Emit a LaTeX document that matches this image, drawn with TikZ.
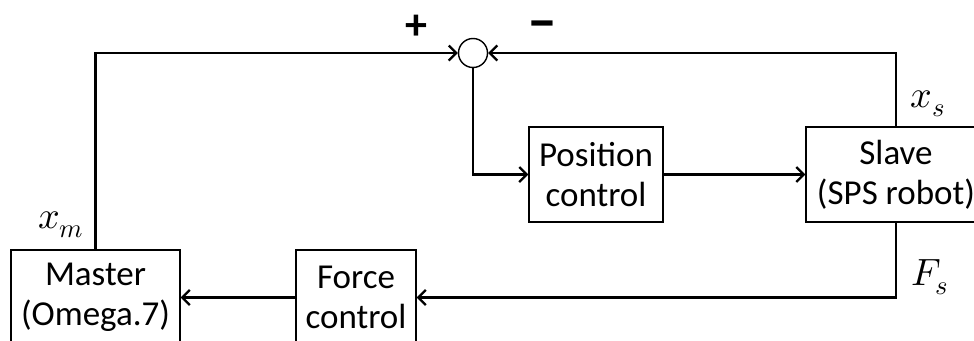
\documentclass[tikz,border=0pt]{standalone}
\usepackage{fontspec}
\usepackage{unicode-math}
\setmainfont{Carlito}
\usetikzlibrary{arrows.meta}
\begin{document}
\begin{tikzpicture}[x=1pt,y=-1pt,
  blk/.style={draw,line width=1.4pt,rectangle,inner sep=0pt,align=center,
    font=\fontsize{35}{40}\selectfont},
  conn/.style={line width=2.2pt,-{Straight Barb[length=7.5pt,width=15pt]}},
  lbl/.style={inner sep=0pt,anchor=base,font=\fontsize{38}{40}\selectfont},
  sgn/.style={inner sep=0pt,font=\fontsize{44}{48}\selectfont\bfseries}]
\useasboundingbox (0,0) rectangle (974,340);
\clip (0,0) rectangle (974,340);
\node[draw,circle,line width=1.4pt,minimum size=29pt,inner sep=0pt] (sum) at (473,53) {};
\node[blk,minimum width=134pt,minimum height=95pt] (pos) at (596,174.5) {Position\\control};
\node[blk,minimum width=180pt,minimum height=95pt] (slave) at (896,174.5) {Slave\\(SPS robot)};
\node[blk,minimum width=169pt,minimum height=95pt] (master) at (95.5,297.5) {Master\\(Omega.7)};
\node[blk,minimum width=120pt,minimum height=95pt] (force) at (356,297.5) {Force\\control};
\node[sgn] (plus) at (416,27) {+};
\node[sgn,font=\fontsize{60}{60}\selectfont\bfseries] (minus) at (542,31) {–};
\node[lbl] (xm) at (61,228) {$x_m$};
\node[lbl] (xs) at (928,107) {$x_s$};
\node[lbl] (fs) at (930,285) {$F_s$};
\draw[conn] (master.north) |- (sum.west);
\draw[conn] (slave.north) |- (sum.east);
\draw[conn] (sum.south) |- (pos.west);
\draw[conn] (pos.east) -- (slave.west);
\draw[conn] (slave.south) |- (force.east);
\draw[conn] (force.west) -- (master.east);
\end{tikzpicture}
\end{document}
